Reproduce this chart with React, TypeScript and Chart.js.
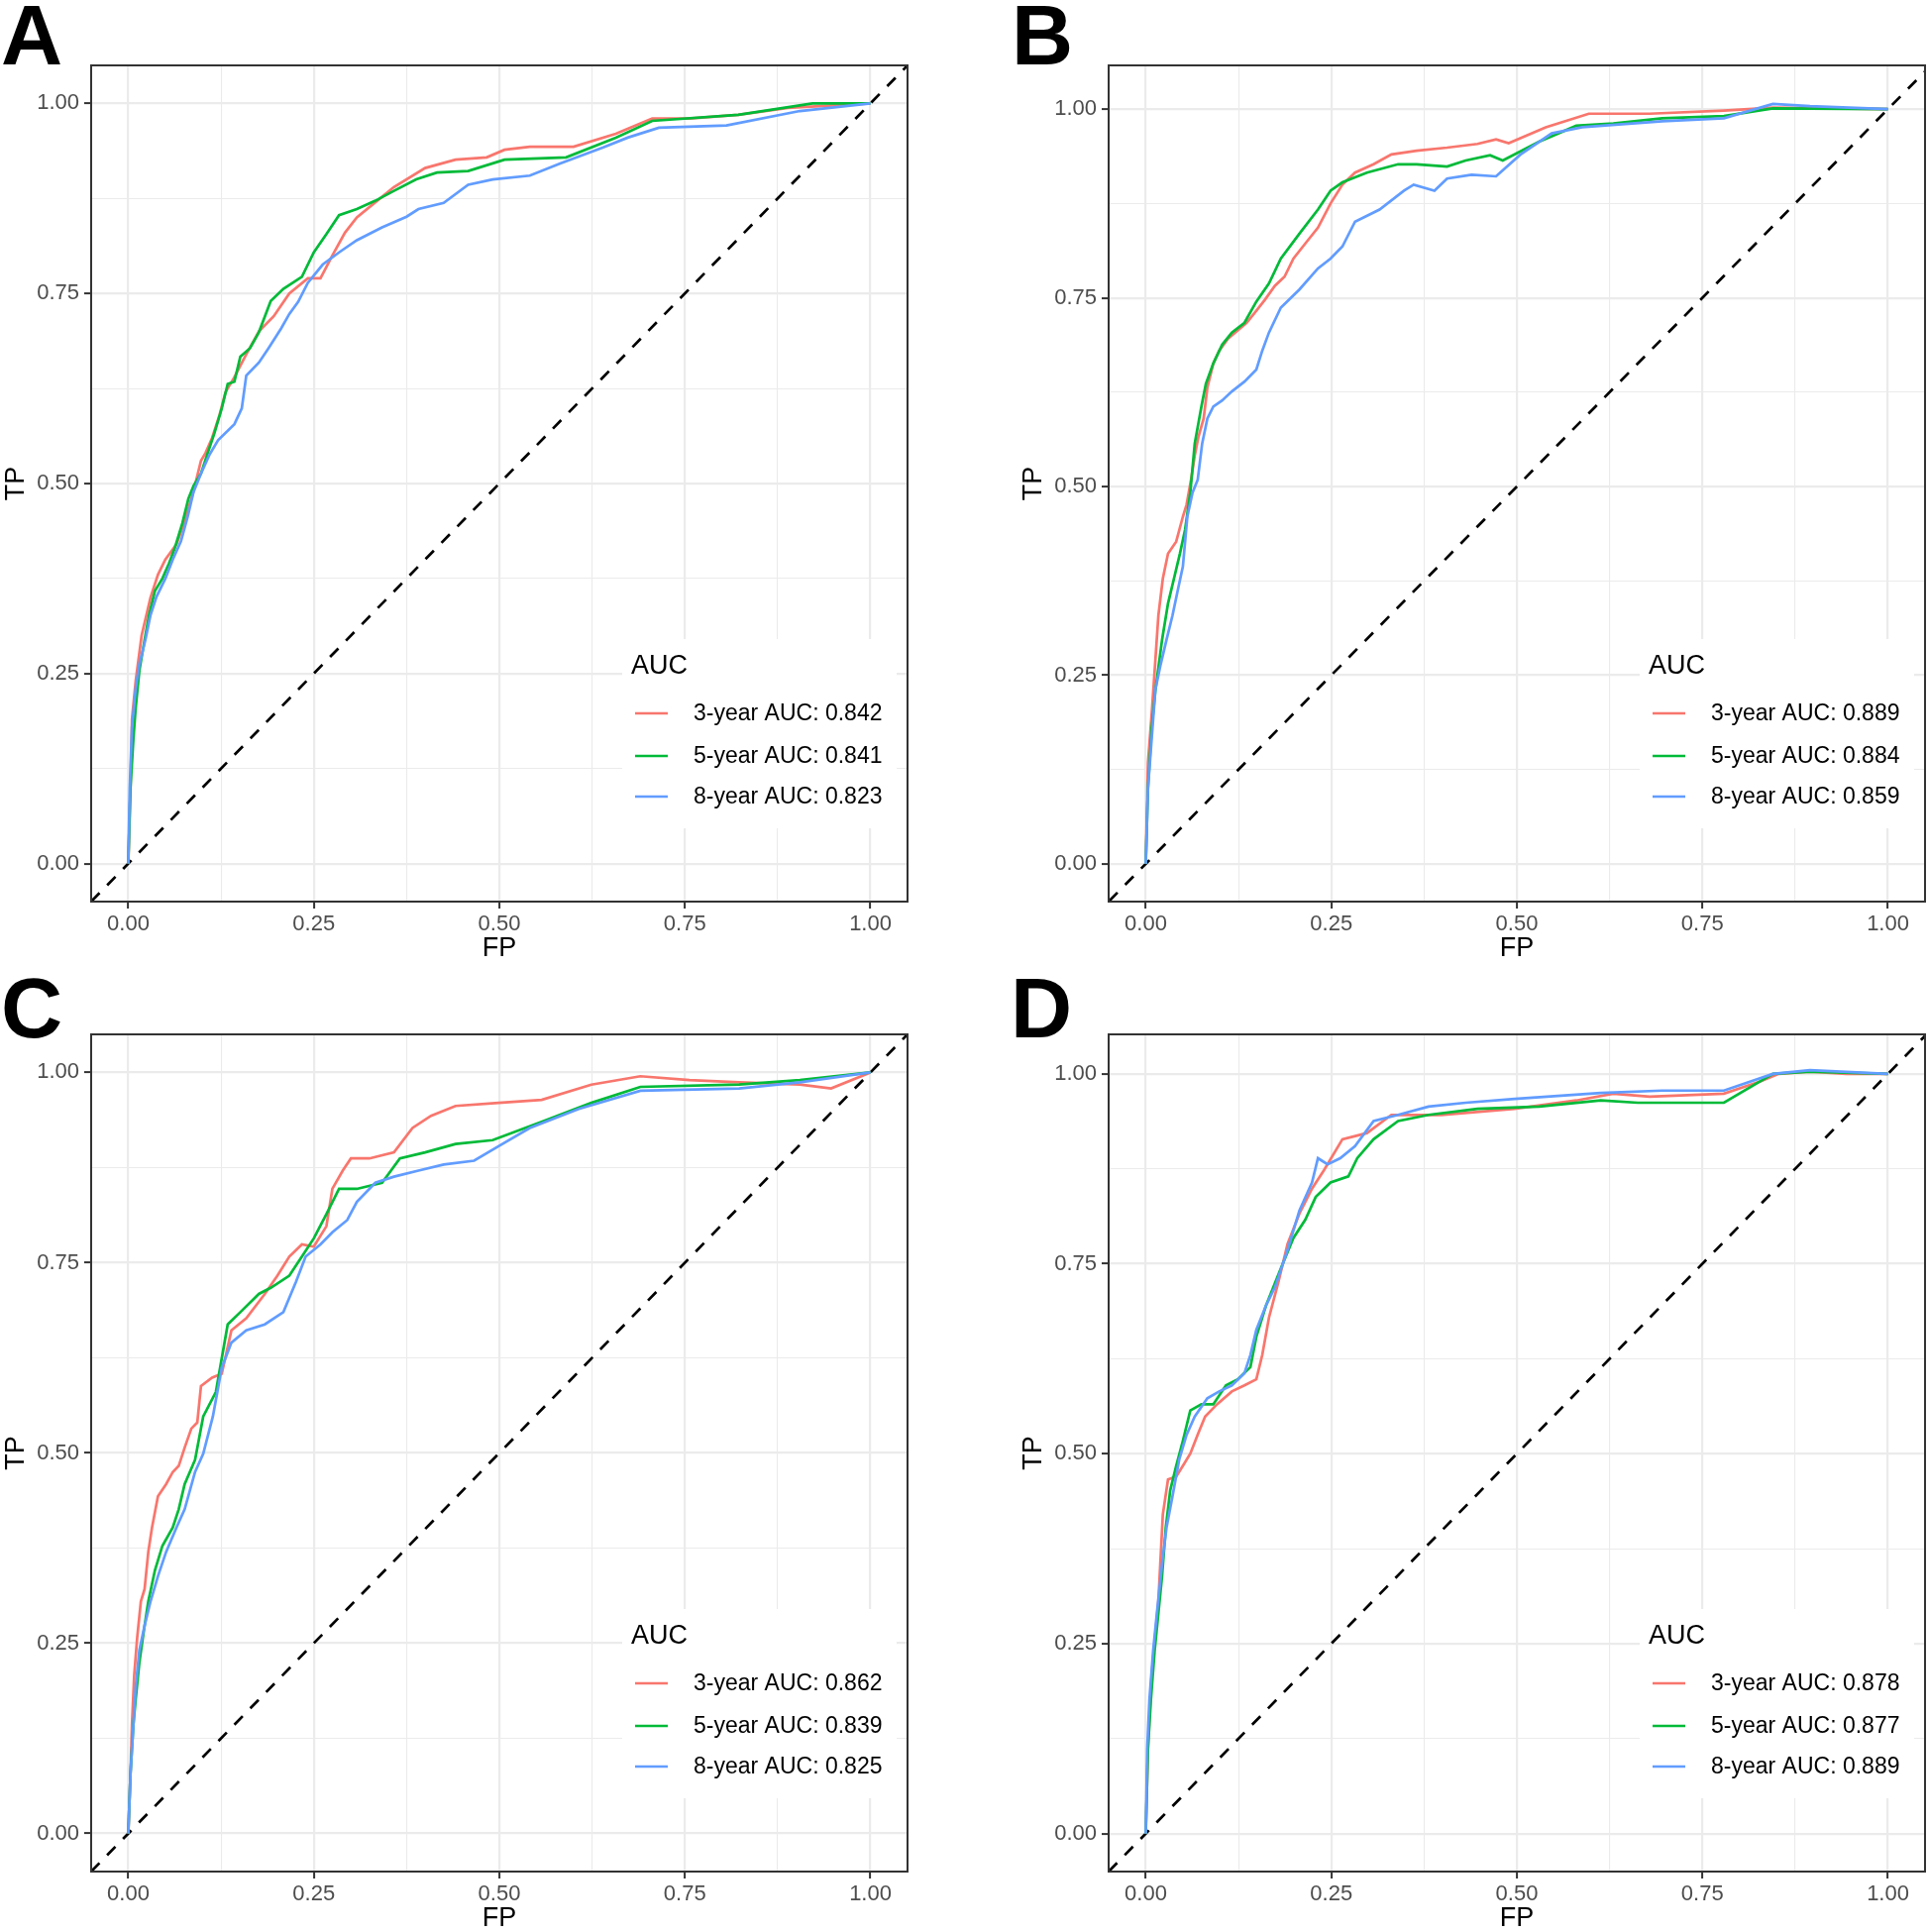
import React, { useEffect, useRef } from "react";
import { Chart, registerables } from "chart.js";

Chart.register(...registerables);

const FONT = "'Liberation Sans', Arial, Helvetica, sans-serif";
Chart.defaults.font.family = FONT;

// ---------- shared labels / ticks ----------
const seriesNames = ["3-year", "5-year", "8-year"];
const seriesColors = ["#F8766D", "#00BA38", "#619CFF"];
const axisTicks = [0, 0.125, 0.25, 0.375, 0.5, 0.625, 0.75, 0.875, 1];
const axisTickLabels = ["0.00", "", "0.25", "", "0.50", "", "0.75", "", "1.00"];
const diagonalX = [-0.2, 1.2];
const diagonalY = [-0.2, 1.2];

// ---------- Panel A ----------
const fpA3 = [0, 0.003, 0.005, 0.010, 0.018, 0.030, 0.040, 0.050, 0.065, 0.076, 0.088, 0.098, 0.104, 0.113, 0.123, 0.131, 0.143, 0.159, 0.176, 0.196, 0.217, 0.242, 0.259, 0.275, 0.292, 0.308, 0.333, 0.358, 0.400, 0.441, 0.483, 0.507, 0.541, 0.600, 0.657, 0.706, 0.756, 0.822, 0.889, 1.000];
const tpA3 = [0, 0.10, 0.19, 0.24, 0.30, 0.35, 0.38, 0.40, 0.42, 0.45, 0.49, 0.53, 0.54, 0.56, 0.59, 0.62, 0.64, 0.67, 0.70, 0.72, 0.75, 0.77, 0.77, 0.80, 0.83, 0.85, 0.87, 0.89, 0.915, 0.926, 0.929, 0.939, 0.943, 0.943, 0.96, 0.98, 0.98, 0.985, 0.994, 1.0];
const fpA5 = [0, 0.003, 0.007, 0.010, 0.015, 0.022, 0.028, 0.036, 0.046, 0.055, 0.063, 0.073, 0.081, 0.088, 0.098, 0.106, 0.116, 0.126, 0.134, 0.143, 0.151, 0.164, 0.176, 0.192, 0.209, 0.234, 0.250, 0.267, 0.284, 0.308, 0.333, 0.358, 0.388, 0.416, 0.458, 0.507, 0.590, 0.657, 0.706, 0.822, 0.922, 1.000];
const tpA5 = [0, 0.10, 0.165, 0.205, 0.254, 0.294, 0.327, 0.359, 0.375, 0.395, 0.416, 0.448, 0.48, 0.497, 0.513, 0.537, 0.566, 0.599, 0.631, 0.634, 0.667, 0.678, 0.699, 0.74, 0.756, 0.772, 0.804, 0.828, 0.853, 0.861, 0.872, 0.885, 0.90, 0.909, 0.911, 0.926, 0.929, 0.955, 0.977, 0.985, 1.0, 1.0];
const fpA8 = [0, 0.002, 0.005, 0.010, 0.015, 0.023, 0.030, 0.038, 0.050, 0.060, 0.071, 0.080, 0.088, 0.098, 0.109, 0.121, 0.143, 0.153, 0.159, 0.176, 0.189, 0.206, 0.217, 0.229, 0.242, 0.262, 0.284, 0.308, 0.342, 0.375, 0.391, 0.425, 0.458, 0.491, 0.541, 0.582, 0.640, 0.673, 0.715, 0.806, 0.905, 1.000];
const tpA8 = [0, 0.10, 0.18, 0.23, 0.262, 0.294, 0.327, 0.351, 0.375, 0.40, 0.424, 0.456, 0.489, 0.513, 0.537, 0.557, 0.578, 0.599, 0.642, 0.659, 0.678, 0.704, 0.723, 0.739, 0.764, 0.788, 0.804, 0.82, 0.837, 0.851, 0.861, 0.869, 0.893, 0.90, 0.905, 0.921, 0.942, 0.955, 0.968, 0.971, 0.99, 1.0];
const aucA = [0.842, 0.841, 0.823];

// ---------- Panel B ----------
const fpB3 = [0, 0.003, 0.008, 0.012, 0.017, 0.023, 0.030, 0.041, 0.050, 0.055, 0.061, 0.066, 0.071, 0.078, 0.083, 0.091, 0.099, 0.111, 0.124, 0.136, 0.149, 0.161, 0.174, 0.187, 0.199, 0.215, 0.232, 0.249, 0.265, 0.282, 0.307, 0.331, 0.365, 0.406, 0.447, 0.472, 0.489, 0.539, 0.597, 0.679, 0.779, 0.845, 1.000];
const tpB3 = [0, 0.134, 0.199, 0.256, 0.329, 0.378, 0.411, 0.427, 0.46, 0.476, 0.509, 0.541, 0.566, 0.59, 0.631, 0.663, 0.68, 0.696, 0.707, 0.717, 0.733, 0.748, 0.766, 0.778, 0.802, 0.822, 0.843, 0.875, 0.90, 0.916, 0.927, 0.94, 0.945, 0.949, 0.954, 0.96, 0.955, 0.976, 0.994, 0.994, 0.998, 1.002, 1.0];
const fpB5 = [0, 0.003, 0.008, 0.013, 0.022, 0.030, 0.038, 0.046, 0.053, 0.060, 0.066, 0.075, 0.081, 0.091, 0.103, 0.116, 0.133, 0.149, 0.166, 0.182, 0.207, 0.232, 0.249, 0.265, 0.298, 0.340, 0.365, 0.406, 0.431, 0.464, 0.481, 0.530, 0.580, 0.630, 0.696, 0.779, 0.845, 1.000];
const tpB5 = [0, 0.10, 0.18, 0.23, 0.297, 0.345, 0.378, 0.411, 0.443, 0.492, 0.557, 0.606, 0.636, 0.663, 0.688, 0.704, 0.717, 0.745, 0.769, 0.802, 0.835, 0.867, 0.892, 0.903, 0.916, 0.927, 0.927, 0.924, 0.932, 0.939, 0.932, 0.957, 0.978, 0.981, 0.988, 0.991, 1.001, 1.0];
const fpB8 = [0, 0.003, 0.008, 0.013, 0.020, 0.028, 0.036, 0.043, 0.050, 0.056, 0.063, 0.070, 0.076, 0.083, 0.091, 0.103, 0.116, 0.133, 0.149, 0.157, 0.166, 0.182, 0.207, 0.232, 0.249, 0.265, 0.282, 0.315, 0.348, 0.361, 0.389, 0.406, 0.439, 0.472, 0.505, 0.547, 0.588, 0.696, 0.779, 0.845, 0.895, 1.000];
const tpB8 = [0, 0.10, 0.166, 0.231, 0.264, 0.297, 0.329, 0.362, 0.394, 0.46, 0.492, 0.509, 0.557, 0.59, 0.606, 0.614, 0.626, 0.639, 0.655, 0.68, 0.704, 0.737, 0.761, 0.789, 0.802, 0.818, 0.851, 0.867, 0.892, 0.90, 0.892, 0.908, 0.913, 0.911, 0.94, 0.968, 0.976, 0.984, 0.988, 1.007, 1.004, 1.0];
const aucB = [0.889, 0.884, 0.859];

// ---------- Panel C ----------
const fpC3 = [0, 0.003, 0.005, 0.008, 0.012, 0.017, 0.022, 0.027, 0.032, 0.040, 0.051, 0.060, 0.068, 0.076, 0.085, 0.093, 0.098, 0.113, 0.126, 0.139, 0.159, 0.184, 0.201, 0.217, 0.234, 0.250, 0.267, 0.275, 0.289, 0.300, 0.325, 0.358, 0.383, 0.408, 0.441, 0.499, 0.557, 0.624, 0.690, 0.756, 0.823, 0.905, 0.947, 1.000];
const tpC3 = [0, 0.079, 0.144, 0.208, 0.257, 0.305, 0.321, 0.37, 0.402, 0.443, 0.459, 0.475, 0.483, 0.507, 0.532, 0.54, 0.588, 0.599, 0.604, 0.661, 0.677, 0.709, 0.733, 0.758, 0.774, 0.771, 0.798, 0.847, 0.871, 0.887, 0.887, 0.895, 0.927, 0.943, 0.956, 0.96, 0.964, 0.984, 0.995, 0.99, 0.987, 0.984, 0.979, 1.0];
const fpC5 = [0, 0.003, 0.007, 0.010, 0.015, 0.022, 0.027, 0.036, 0.046, 0.060, 0.068, 0.076, 0.090, 0.101, 0.118, 0.134, 0.151, 0.176, 0.192, 0.217, 0.234, 0.250, 0.267, 0.284, 0.308, 0.342, 0.366, 0.400, 0.441, 0.491, 0.557, 0.624, 0.690, 0.823, 0.905, 1.000];
const tpC5 = [0, 0.079, 0.144, 0.176, 0.225, 0.273, 0.305, 0.346, 0.378, 0.402, 0.426, 0.459, 0.491, 0.548, 0.58, 0.669, 0.685, 0.709, 0.717, 0.733, 0.758, 0.782, 0.814, 0.847, 0.847, 0.855, 0.887, 0.895, 0.906, 0.911, 0.935, 0.96, 0.981, 0.984, 0.99, 1.0];
const fpC8 = [0, 0.003, 0.007, 0.010, 0.015, 0.022, 0.030, 0.040, 0.051, 0.065, 0.076, 0.090, 0.101, 0.114, 0.126, 0.139, 0.159, 0.184, 0.209, 0.226, 0.239, 0.259, 0.275, 0.295, 0.308, 0.333, 0.358, 0.391, 0.425, 0.466, 0.499, 0.541, 0.607, 0.690, 0.823, 0.905, 1.000];
const tpC8 = [0, 0.079, 0.144, 0.192, 0.241, 0.273, 0.305, 0.338, 0.37, 0.402, 0.426, 0.475, 0.499, 0.548, 0.612, 0.645, 0.661, 0.669, 0.685, 0.725, 0.758, 0.774, 0.79, 0.806, 0.83, 0.855, 0.863, 0.871, 0.879, 0.884, 0.903, 0.927, 0.952, 0.976, 0.979, 0.987, 1.0];
const aucC = [0.862, 0.839, 0.825];

// ---------- Panel D ----------
const fpD3 = [0, 0.003, 0.008, 0.017, 0.023, 0.030, 0.041, 0.050, 0.060, 0.070, 0.080, 0.096, 0.116, 0.133, 0.149, 0.157, 0.166, 0.179, 0.191, 0.207, 0.224, 0.240, 0.265, 0.298, 0.331, 0.398, 0.497, 0.580, 0.630, 0.679, 0.779, 0.828, 0.853, 0.895, 0.944, 1.000];
const tpD3 = [0, 0.112, 0.209, 0.306, 0.42, 0.466, 0.47, 0.484, 0.50, 0.525, 0.549, 0.565, 0.582, 0.59, 0.598, 0.63, 0.679, 0.727, 0.776, 0.816, 0.849, 0.873, 0.914, 0.922, 0.946, 0.946, 0.954, 0.965, 0.974, 0.97, 0.974, 0.99, 1.0, 1.003, 1.0, 1.0];
const fpD5 = [0, 0.003, 0.007, 0.012, 0.017, 0.022, 0.027, 0.033, 0.041, 0.050, 0.060, 0.075, 0.091, 0.108, 0.124, 0.141, 0.149, 0.162, 0.182, 0.199, 0.215, 0.229, 0.249, 0.273, 0.285, 0.307, 0.340, 0.381, 0.447, 0.530, 0.613, 0.663, 0.779, 0.845, 0.895, 1.000];
const tpD5 = [0, 0.112, 0.177, 0.241, 0.29, 0.339, 0.403, 0.452, 0.484, 0.517, 0.557, 0.565, 0.565, 0.59, 0.598, 0.614, 0.654, 0.695, 0.744, 0.784, 0.808, 0.838, 0.857, 0.865, 0.889, 0.914, 0.938, 0.946, 0.954, 0.957, 0.965, 0.962, 0.962, 1.0, 1.003, 1.0];
const fpD8 = [0, 0.002, 0.005, 0.010, 0.015, 0.022, 0.028, 0.036, 0.045, 0.055, 0.066, 0.083, 0.099, 0.116, 0.133, 0.141, 0.149, 0.162, 0.174, 0.191, 0.207, 0.224, 0.232, 0.245, 0.262, 0.282, 0.307, 0.340, 0.381, 0.431, 0.497, 0.613, 0.696, 0.779, 0.845, 0.895, 1.000];
const tpD8 = [0, 0.112, 0.177, 0.241, 0.29, 0.355, 0.403, 0.444, 0.492, 0.525, 0.549, 0.573, 0.582, 0.59, 0.606, 0.63, 0.663, 0.695, 0.719, 0.768, 0.82, 0.857, 0.889, 0.881, 0.889, 0.905, 0.938, 0.946, 0.957, 0.962, 0.967, 0.975, 0.978, 0.978, 1.0, 1.005, 1.0];
const aucD = [0.878, 0.877, 0.889];

// ---------- layout ----------
const Y_AXIS_W = 92;
const X_AXIS_H = 64;

type Box = { left: number; top: number; width: number; height: number };
type Area = { left: number; top: number; right: number; bottom: number };
type PanelDef = {
  letter: string;
  letterPos: [number, number];
  box: Box;
  area: Area;
  yMin: number;
  yMax: number;
  fps: number[][];
  tps: number[][];
  auc: number[];
};

const panels: PanelDef[] = [
  {
    letter: "A", letterPos: [1, 65],
    box: { left: 0, top: 0, width: 973, height: 975 },
    area: { left: 92, top: 66, right: 916, bottom: 910 },
    yMin: -0.05, yMax: 1.05,
    fps: [fpA3, fpA5, fpA8], tps: [tpA3, tpA5, tpA8], auc: aucA,
  },
  {
    letter: "B", letterPos: [1021, 65],
    box: { left: 973, top: 0, width: 973, height: 975 },
    area: { left: 1119, top: 66, right: 1943, bottom: 910 },
    yMin: -0.05, yMax: 1.058,
    fps: [fpB3, fpB5, fpB8], tps: [tpB3, tpB5, tpB8], auc: aucB,
  },
  {
    letter: "C", letterPos: [1, 1047],
    box: { left: 0, top: 975, width: 973, height: 985 },
    area: { left: 92, top: 1044, right: 916, bottom: 1889 },
    yMin: -0.05, yMax: 1.05,
    fps: [fpC3, fpC5, fpC8], tps: [tpC3, tpC5, tpC8], auc: aucC,
  },
  {
    letter: "D", letterPos: [1020, 1047],
    box: { left: 973, top: 975, width: 973, height: 985 },
    area: { left: 1119, top: 1044, right: 1943, bottom: 1889 },
    yMin: -0.05, yMax: 1.052,
    fps: [fpD3, fpD5, fpD8], tps: [tpD3, tpD5, tpD8], auc: aucD,
  },
];

function makeAxis(kind: "x" | "y", min: number, max: number) {
  const isX = kind === "x";
  return {
    type: "linear" as const,
    position: isX ? ("bottom" as const) : ("left" as const),
    min,
    max,
    afterBuildTicks: (scale: any) => {
      scale.ticks = axisTicks.map((v) => ({ value: v }));
    },
    afterFit: (scale: any) => {
      if (isX) scale.height = X_AXIS_H;
      else scale.width = Y_AXIS_W;
    },
    ticks: {
      autoSkip: false,
      maxRotation: 0,
      minRotation: 0,
      padding: isX ? 3 : 5,
      color: "#4D4D4D",
      font: { size: 22, family: FONT },
      callback: (_v: any, i: number) => axisTickLabels[i],
    },
    grid: {
      drawOnChartArea: true,
      drawTicks: true,
      tickLength: 7,
      color: "#EBEBEB",
      lineWidth: (ctx: any) => (ctx.index % 2 === 0 ? 2.2 : 1.1),
      tickColor: (ctx: any) => (ctx.index % 2 === 0 ? "#333333" : "rgba(0,0,0,0)"),
      tickWidth: 2,
    },
    border: { display: false },
    title: {
      display: true,
      text: isX ? "FP" : "TP",
      color: "#000000",
      font: { size: 27, family: FONT },
      padding: 0,
    },
  };
}

function RocPanel({ panel }: { panel: PanelDef }) {
  const ref = useRef<HTMLCanvasElement | null>(null);

  useEffect(() => {
    const canvas = ref.current;
    if (!canvas) return;
    const { box, area } = panel;
    const padding = {
      left: area.left - box.left - Y_AXIS_W,
      top: area.top - box.top,
      right: box.left + box.width - area.right,
      bottom: box.top + box.height - area.bottom - X_AXIS_H,
    };

    const curveSets = panel.fps.map((fp, i) => ({
      label: seriesNames[i],
      data: fp.map((x, j) => ({ x, y: panel.tps[i][j] })),
      borderColor: seriesColors[i],
      backgroundColor: seriesColors[i],
      borderWidth: 2.7,
      pointRadius: 0,
      tension: 0,
      fill: false,
      order: 2 - i,
    }));
    const diag = {
      label: "diag",
      data: diagonalX.map((x, j) => ({ x, y: diagonalY[j] })),
      borderColor: "#000000",
      borderWidth: 2.7,
      borderDash: [12, 11],
      pointRadius: 0,
      fill: false,
      order: 3,
      clip: 0,
    };

    const decor = {
      id: "panelDecor",
      afterDatasetsDraw(chart: any) {
        const { ctx, chartArea } = chart;
        ctx.save();
        ctx.strokeStyle = "#333333";
        ctx.lineWidth = 2;
        ctx.strokeRect(chartArea.left, chartArea.top, chartArea.right - chartArea.left, chartArea.bottom - chartArea.top);
        ctx.restore();
      },
      afterDraw(chart: any) {
        const { ctx, chartArea } = chart;
        const R = chartArea.right;
        const B = chartArea.bottom;
        ctx.save();
        // legend box
        ctx.fillStyle = "#FFFFFF";
        ctx.fillRect(R - 288, B - 265, 277, 191);
        ctx.fillStyle = "#000000";
        ctx.textBaseline = "middle";
        ctx.textAlign = "left";
        ctx.font = `27px ${FONT}`;
        ctx.fillText("AUC", R - 279, B - 237);
        const rows = [B - 190, B - 147, B - 106];
        ctx.font = `23px ${FONT}`;
        rows.forEach((y, i) => {
          ctx.strokeStyle = seriesColors[i];
          ctx.lineWidth = 2.7;
          ctx.beginPath();
          ctx.moveTo(R - 275, y);
          ctx.lineTo(R - 242, y);
          ctx.stroke();
          ctx.fillStyle = "#000000";
          ctx.fillText(`${seriesNames[i]} AUC: ${panel.auc[i].toFixed(3)}`, R - 216, y + 1);
        });
        // panel letter
        ctx.font = `bold 86px ${FONT}`;
        ctx.textBaseline = "alphabetic";
        ctx.fillStyle = "#000000";
        ctx.fillText(panel.letter, panel.letterPos[0] - box.left, panel.letterPos[1] - box.top);
        ctx.restore();
      },
    };

    const chart = new Chart(canvas, {
      type: "line",
      data: { datasets: [...curveSets, diag] as any },
      options: {
        responsive: false,
        maintainAspectRatio: false,
        animation: false,
        devicePixelRatio: 1,
        events: [],
        layout: { padding, autoPadding: false } as any,
        plugins: {
          legend: { display: false },
          tooltip: { enabled: false },
          title: { display: false },
        },
        scales: {
          x: makeAxis("x", -0.05, 1.05) as any,
          y: makeAxis("y", panel.yMin, panel.yMax) as any,
        },
      },
      plugins: [decor],
    });
    return () => chart.destroy();
  }, [panel]);

  return (
    <canvas
      ref={ref}
      width={panel.box.width}
      height={panel.box.height}
      style={{
        position: "absolute",
        left: panel.box.left,
        top: panel.box.top,
        width: panel.box.width,
        height: panel.box.height,
        display: "block",
      }}
    />
  );
}

export default function App() {
  return (
    <div
      style={{
        position: "absolute",
        left: 0,
        top: 0,
        width: 1946,
        height: 1950,
        overflow: "hidden",
        background: "#FFFFFF",
      }}
    >
      {panels.map((p) => (
        <RocPanel key={p.letter} panel={p} />
      ))}
    </div>
  );
}
